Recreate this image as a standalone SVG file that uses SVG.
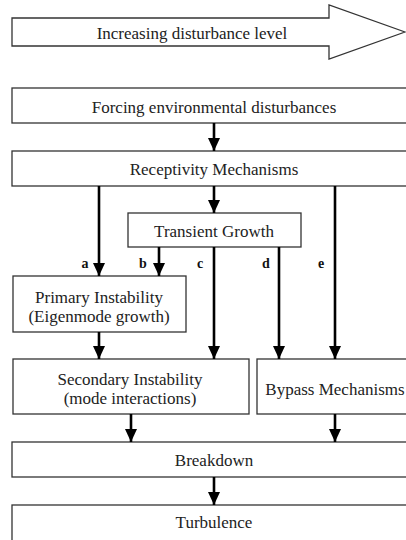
<svg xmlns="http://www.w3.org/2000/svg" width="406" height="540" viewBox="0 0 406 540">
<style>
.box{fill:#fff;stroke:#333;stroke-width:1.3}
.t{font-family:"Liberation Serif","Times New Roman",Times,serif;font-size:17px;fill:#222;text-anchor:middle}
.l{font-family:"Liberation Serif","Times New Roman",Times,serif;font-size:14px;font-weight:bold;fill:#111;text-anchor:middle}
.c{stroke:#000;stroke-width:2.6;fill:none;marker-end:url(#ah)}
</style>
<defs>
<marker id="ah" markerUnits="userSpaceOnUse" markerWidth="13" markerHeight="12" refX="13" refY="6" orient="auto" viewBox="0 0 13 12">
<path d="M0,0 L13,6 L0,12 Z" fill="#000"/>
</marker>
</defs>
<rect width="406" height="540" fill="#fff"/>
<g id="level">
<path class="box" d="M12,18 H329 V5 L405,32 L329,59 V46 H12 Z"/>
<text class="t" x="192" y="39">Increasing disturbance level</text>
</g>
<g id="forcing"><rect class="box" x="12" y="88" width="410" height="35"/><text class="t" x="214" y="113">Forcing environmental disturbances</text></g>
<g id="receptivity"><rect class="box" x="12" y="151" width="410" height="35"/><text class="t" x="214" y="175">Receptivity Mechanisms</text></g>
<g id="transient"><rect class="box" x="128" y="213" width="173" height="34"/><text class="t" x="214" y="237">Transient Growth</text></g>
<g id="primary"><rect class="box" x="13" y="276" width="173" height="56"/><text class="t" x="99" y="303">Primary Instability</text><text class="t" x="99" y="322">(Eigenmode growth)</text></g>
<g id="secondary"><rect class="box" x="13" y="359" width="236" height="55"/><text class="t" x="130" y="385">Secondary Instability</text><text class="t" x="130" y="404">(mode interactions)</text></g>
<g id="bypass"><rect class="box" x="257" y="359" width="165" height="55"/><text class="t" x="335" y="395">Bypass Mechanisms</text></g>
<g id="breakdown"><rect class="box" x="12" y="442" width="410" height="35"/><text class="t" x="214" y="466">Breakdown</text></g>
<g id="turbulence"><rect class="box" x="12" y="505" width="410" height="40"/><text class="t" x="214" y="528">Turbulence</text></g>
<g id="connectors">
<line class="c" x1="214" y1="123" x2="214" y2="151"/>
<line class="c" x1="214" y1="186" x2="214" y2="213"/>
<line class="c" x1="99" y1="186" x2="99" y2="276"/>
<line class="c" x1="159" y1="247" x2="159" y2="276"/>
<line class="c" x1="214" y1="247" x2="214" y2="359"/>
<line class="c" x1="279" y1="247" x2="279" y2="359"/>
<line class="c" x1="335" y1="186" x2="335" y2="359"/>
<line class="c" x1="99" y1="332" x2="99" y2="359"/>
<line class="c" x1="131" y1="414" x2="131" y2="442"/>
<line class="c" x1="335" y1="414" x2="335" y2="442"/>
<line class="c" x1="214" y1="477" x2="214" y2="505"/>
<text class="l" x="85" y="268">a</text>
<text class="l" x="143" y="268">b</text>
<text class="l" x="200" y="268">c</text>
<text class="l" x="266" y="268">d</text>
<text class="l" x="321" y="268">e</text>
</g>
</svg>
